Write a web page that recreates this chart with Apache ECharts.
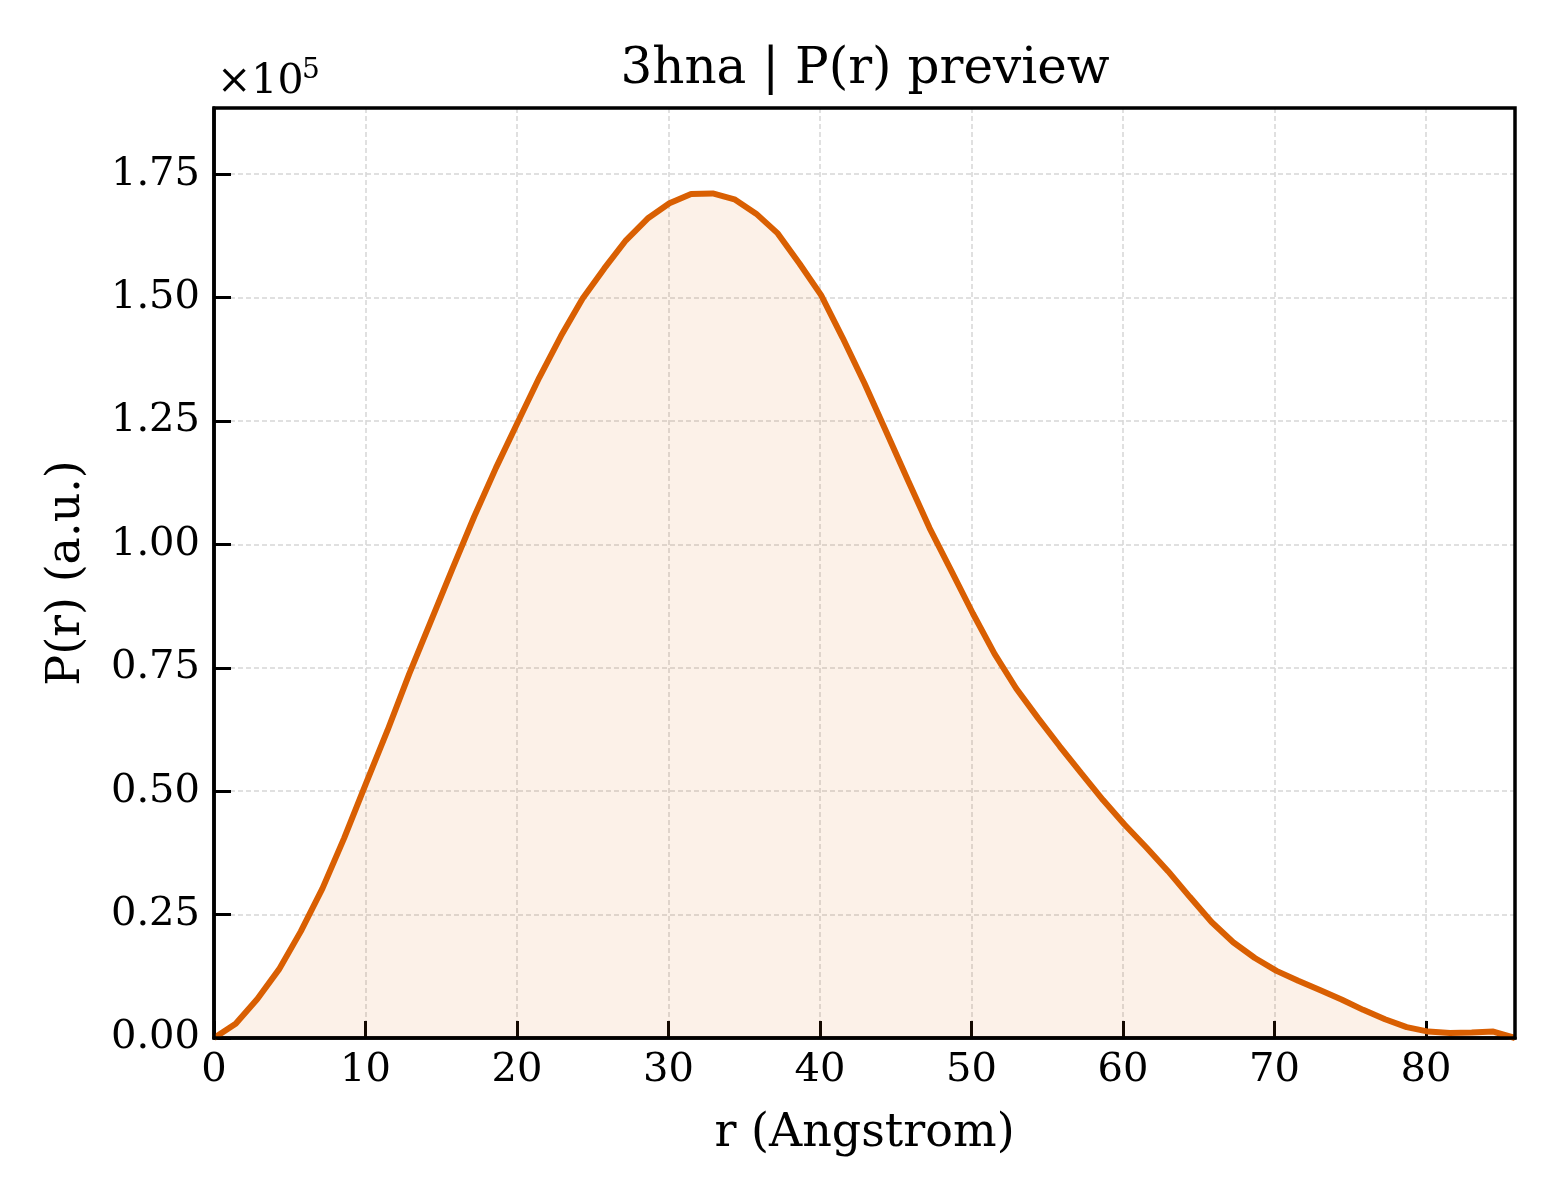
<!DOCTYPE html>
<html>
<head>
<meta charset="utf-8">
<script src="https://cdn.jsdelivr.net/npm/echarts@6/dist/echarts.min.js"></script>
<style>
html,body{margin:0;padding:0;background:#fff;}
#chart{width:1560px;height:1200px;}
</style>
</head>
<body>
<div id="chart"></div>
<script>
// r grid (Angstrom)
var rValues = [0.00, 1.43, 2.86, 4.29, 5.73, 7.16, 8.59, 10.02, 11.45, 12.88,
  14.31, 15.74, 17.17, 18.61, 20.04, 21.47, 22.90, 24.33, 25.76, 27.19,
  28.62, 30.06, 31.49, 32.92, 34.35, 35.78, 37.21, 38.64, 40.07, 41.50,
  42.94, 44.37, 45.80, 47.23, 48.66, 50.09, 51.52, 52.95, 54.39, 55.82,
  57.25, 58.68, 60.11, 61.54, 62.97, 64.40, 65.84, 67.27, 68.70, 70.13,
  71.56, 72.99, 74.42, 75.85, 77.29, 78.72, 80.15, 81.58, 83.01, 84.44, 85.87];
// P(r) values (a.u.)
var prValues = [0, 2900, 7900, 13900, 21600, 30300, 40500, 51500, 62300, 73700,
  84400, 95100, 105600, 115500, 124700, 133800, 142200, 149800, 155900, 161600,
  166000, 169100, 171000, 171100, 169900, 167000, 163000, 156900, 150500, 141800,
  132600, 122800, 113000, 103300, 94700, 86000, 77800, 70800, 64800, 59100,
  53600, 48200, 43200, 38600, 33800, 28600, 23500, 19400, 16200, 13600,
  11600, 9700, 7800, 5700, 3800, 2200, 1300, 1000, 1100, 1300, 0];
var xTicks = [0, 10, 20, 30, 40, 50, 60, 70, 80];
var yTicks = [0, 25000, 50000, 75000, 100000, 125000, 150000, 175000];
var titleText = '3hna | P(r) preview';
var xName = 'r (Angstrom)';
var yName = 'P(r) (a.u.)';

var FONT = 'DejaVu Serif';
var LINE = '#d95f02';
var GRID = {left: 214, top: 108, right: 45, bottom: 162};

var data = rValues.map(function (r, i) { return [r, prValues[i]]; });

var chart = echarts.init(document.getElementById('chart'), null, {renderer: 'canvas'});

var gridStyle = {show: true, lineStyle: {color: '#d6d6d6', width: 1.5, type: [5, 3]}};

chart.setOption({
  animation: false,
  backgroundColor: '#ffffff',
  grid: {left: GRID.left, right: GRID.right, top: GRID.top, bottom: GRID.bottom, show: false},
  xAxis: {
    type: 'value',
    min: 0, max: rValues[rValues.length - 1], interval: 10,
    name: xName, nameLocation: 'middle', nameGap: 73,
    nameTextStyle: {fontFamily: FONT, fontSize: 46, color: '#000'},
    axisLine: {show: true, onZero: false, lineStyle: {color: '#000', width: 3.5}},
    axisTick: {show: true, inside: true, length: 17, lineStyle: {color: '#000', width: 3}},
    axisLabel: {
      fontFamily: FONT, fontSize: 40, color: '#000', margin: 13,
      showMaxLabel: false,
      formatter: function (v) { return xTicks.indexOf(v) >= 0 ? String(v) : ''; }
    },
    splitLine: gridStyle
  },
  yAxis: {
    type: 'value',
    min: 0, max: 188400, interval: 25000,
    name: yName, nameLocation: 'middle', nameGap: 124, nameRotate: 90,
    nameTextStyle: {fontFamily: FONT, fontSize: 46, color: '#000'},
    axisLine: {show: true, onZero: false, lineStyle: {color: '#000', width: 3.5}},
    axisTick: {show: true, inside: true, length: 17, lineStyle: {color: '#000', width: 3}},
    axisLabel: {
      fontFamily: FONT, fontSize: 40, color: '#000', margin: 14,
      showMaxLabel: false,
      formatter: function (v) { return yTicks.indexOf(v) >= 0 ? (v / 1e5).toFixed(2) : ''; }
    },
    splitLine: gridStyle
  },
  graphic: [
    {type: 'rect', z: 100, silent: true,
     shape: {x: GRID.left, y: GRID.top, width: 1560 - GRID.left - GRID.right, height: 1200 - GRID.top - GRID.bottom},
     style: {fill: null, stroke: '#000', lineWidth: 3.5}},
    {type: 'text', z: 100, x: 865, y: 70, style: {text: titleText, fontFamily: FONT, fontSize: 50, fill: '#000', textAlign: 'center', textVerticalAlign: 'middle'}},
    {type: 'text', z: 100, x: 217, y: 82, style: {text: '\u00d710', fontFamily: FONT, fontSize: 41, fill: '#000', textAlign: 'left', textVerticalAlign: 'middle'}},
    {type: 'text', z: 100, x: 302, y: 71, style: {text: '5', fontFamily: FONT, fontSize: 28, fill: '#000', textAlign: 'left', textVerticalAlign: 'middle'}}
  ],
  series: [{
    type: 'line',
    data: data,
    showSymbol: false,
    smooth: false,
    lineStyle: {color: LINE, width: 6},
    itemStyle: {color: LINE},
    areaStyle: {color: 'rgba(217,95,2,0.13)', origin: 'start'},
    clip: true
  }]
});
</script>
</body>
</html>
